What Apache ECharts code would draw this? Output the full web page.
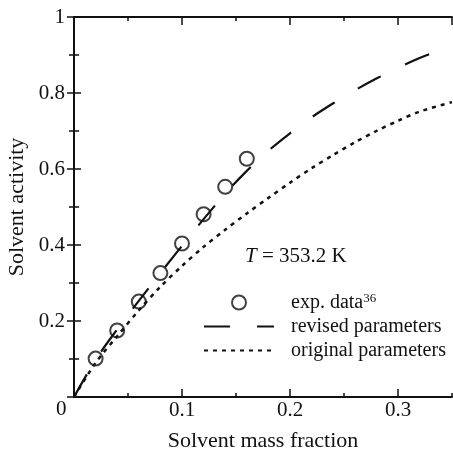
<!DOCTYPE html>
<html>
<head>
<meta charset="utf-8">
<script src="https://cdn.jsdelivr.net/npm/echarts@6/dist/echarts.min.js"></script>
<style>
  html, body { margin: 0; padding: 0; background: #fff; }
  #chart { width: 453px; height: 452px; }
</style>
</head>
<body>
<div id="chart"></div>
<script>
// experimental points
const expX = [0.02, 0.04, 0.06, 0.08, 0.10, 0.12, 0.14, 0.16];
const expY = [0.101, 0.175, 0.251, 0.326, 0.404, 0.481, 0.553, 0.627];

// model curves
const curveX = [0, 0.02, 0.04, 0.06, 0.08, 0.10, 0.12, 0.14, 0.16, 0.18, 0.20, 0.22, 0.24, 0.26, 0.28, 0.30, 0.32, 0.35];
const revisedY = [0, 0.098, 0.178, 0.253, 0.326, 0.398, 0.468, 0.535, 0.595, 0.648, 0.694, 0.736, 0.773, 0.807, 0.838, 0.866, 0.892, 0.925];
const originalY = [0, 0.09, 0.16, 0.228, 0.29, 0.345, 0.395, 0.44, 0.483, 0.524, 0.564, 0.602, 0.637, 0.67, 0.70, 0.727, 0.751, 0.776];

const ink = '#111';
const serif = '"Liberation Serif", "DejaVu Serif", serif';

const chart = echarts.init(document.getElementById('chart'));

function xAx(pos, interval, len, showLabel, showLine) {
  return {
    type: 'value', position: pos, min: 0, max: 0.35, interval: interval,
    axisLine: { show: showLine, lineStyle: { color: ink, width: 2 } },
    axisTick: { inside: true, length: len, lineStyle: { color: ink, width: 1.5 } },
    axisLabel: {
      show: showLabel, showMaxLabel: false, margin: 3,
      color: ink, fontFamily: serif, fontSize: 21,
      formatter: v => (v === 0 ? '' : v)
    },
    splitLine: { show: false }
  };
}

function yAx(pos, showLabel) {
  return {
    type: 'value', position: pos, min: 0, max: 1, interval: 0.2,
    axisLine: { show: true, lineStyle: { color: ink, width: 2 } },
    axisTick: { inside: true, length: 7, lineStyle: { color: ink, width: 1.5 } },
    minorTick: { show: true, splitNumber: 2, length: 5, lineStyle: { color: ink, width: 1.5 } },
    axisLabel: {
      show: showLabel, margin: 9, color: ink, fontFamily: serif, fontSize: 21,
      formatter: v => (v === 0 ? '' : v)
    },
    splitLine: { show: false }
  };
}

const xMain = xAx('bottom', 0.1, 8, true, true);
xMain.name = 'Solvent mass fraction';
xMain.nameLocation = 'middle';
xMain.nameGap = 33;
xMain.nameTextStyle = { color: ink, fontFamily: serif, fontSize: 22 };

const yMain = yAx('left', true);
yMain.name = 'Solvent activity';
yMain.nameLocation = 'middle';
yMain.nameGap = 40;
yMain.nameTextStyle = { color: ink, fontFamily: serif, fontSize: 22 };

const hideDot = { color: 'transparent', borderWidth: 0, opacity: 0 };

const option = {
  backgroundColor: '#fff',
  animation: false,
  grid: { left: 74, right: 1, top: 17, bottom: 55, containLabel: false, outerBoundsMode: 'none' },
  xAxis: [
    xMain,
    xAx('bottom', 0.05, 4, false, false),
    xAx('top', 0.1, 8, false, true),
    xAx('top', 0.05, 4, false, false)
  ],
  yAxis: [yMain, yAx('right', false)],
  legend: {
    orient: 'vertical', left: 198, top: 287,
    itemWidth: 70, itemHeight: 14, itemGap: 3,
    data: [
      { name: 'exp. data' },
      { name: 'revised parameters', itemStyle: hideDot },
      { name: 'original parameters', itemStyle: hideDot }
    ],
    formatter: name => (name === 'exp. data' ? 'exp. data{sup|36}' : name),
    textStyle: {
      color: ink, fontFamily: serif, fontSize: 20, lineHeight: 21,
      padding: [0, 0, 0, 12],
      rich: { sup: { fontSize: 13, fontFamily: serif, color: ink, verticalAlign: 'top', lineHeight: 12 } }
    }
  },
  graphic: [
    {
      type: 'text', left: 56, top: 399,
      style: { text: '0', fill: ink, font: '21px ' + serif }
    },
    {
      type: 'text', left: 245, top: 246,
      style: {
        text: '{i|T} = 353.2 K', fill: ink, font: '21px ' + serif,
        rich: { i: { fontStyle: 'italic', fontSize: 21, fontFamily: serif, fill: ink } }
      }
    }
  ],
  series: [
    {
      name: 'original parameters', type: 'line', symbol: 'none', smooth: 0.3,
      data: curveX.map((x, i) => [x, originalY[i]]),
      lineStyle: { color: ink, width: 2.5, type: [4, 5], cap: 'butt' },
      itemStyle: { color: ink }
    },
    {
      name: 'revised parameters', type: 'line', symbol: 'none', smooth: 0.3,
      data: curveX.map((x, i) => [x, revisedY[i]]),
      lineStyle: { color: ink, width: 2.2, type: [26, 27], cap: 'butt' },
      itemStyle: { color: ink }
    },
    {
      name: 'exp. data', type: 'scatter', symbol: 'circle', symbolSize: 14,
      data: expX.map((x, i) => [x, expY[i]]),
      itemStyle: { color: 'transparent', borderColor: ink, borderWidth: 2 }
    }
  ]
};

chart.setOption(option);
</script>
</body>
</html>
